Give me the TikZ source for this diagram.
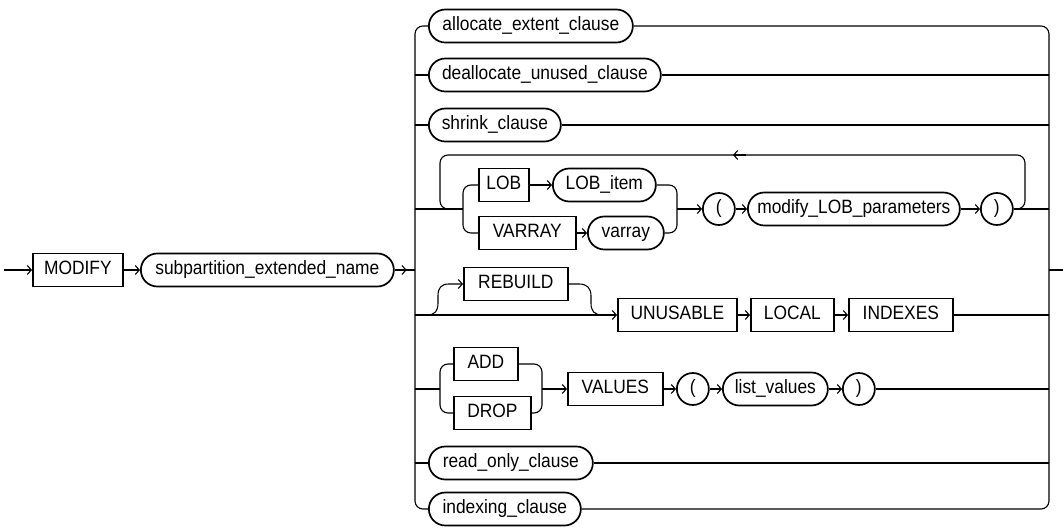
\documentclass[tikz,border=0pt]{standalone}
\usepackage{fontspec}
\setmainfont{Liberation Sans}[FakeStretch=0.9]
\usetikzlibrary{arrows.meta}
\begin{document}
\begin{tikzpicture}[x=1pt,y=-1pt,
  line width=1.1pt,
  elem/.style={draw, line width=1.7pt, font=\fontsize{19.3}{22}\selectfont,
    text height=13.8pt, text depth=4pt, inner sep=0pt, minimum height=33pt, anchor=west},
  kw/.style={elem, rectangle},
  nt/.style={elem, rectangle, rounded corners=16.5pt},
  pc/.style={elem, circle, minimum size=32pt},
  arr/.style={-{Straight Barb[length=4pt,width=9pt]}},
  rc/.style={rounded corners=8pt},
]
\useasboundingbox (0,0) rectangle (1063,529);

% main chain
\coordinate (start) at (4,270);
\node[kw, minimum width=90pt] (modify) at (32,270) {MODIFY};
\node[nt, minimum width=253pt] (subp) at (140,270) {subpartition\_extended\_name};

% left bus coordinates
\coordinate (L1) at (415,26);
\coordinate (L2) at (415,75);
\coordinate (L3) at (415,125);
\coordinate (L4) at (415,209);
\coordinate (L0) at (415,270);
\coordinate (L5) at (415,315);
\coordinate (L6) at (415,389);
\coordinate (L7) at (415,463);
\coordinate (L8) at (415,509);
% right bus coordinates
\coordinate (R1) at (1049,26);
\coordinate (R2) at (1049,75);
\coordinate (R3) at (1049,125);
\coordinate (R4) at (1049,209);
\coordinate (R0) at (1049,270);
\coordinate (R5) at (1049,315);
\coordinate (R6) at (1049,389);
\coordinate (R7) at (1049,463);
\coordinate (R8) at (1049,509);
\coordinate (finish) at (1063,270);

% branch elements
\node[nt, minimum width=204pt] (alloc) at (428,26) {allocate\_extent\_clause};
\node[nt, minimum width=232pt] (dealloc) at (428,75) {deallocate\_unused\_clause};
\node[nt, minimum width=132pt] (shrink) at (428,125) {shrink\_clause};

\node[kw, minimum width=50pt] (lob) at (478,185) {LOB};
\node[nt, minimum width=103pt] (lobitem) at (552,185) {LOB\_item};
\node[kw, minimum width=97pt] (varr) at (478,233) {VARRAY};
\node[nt, minimum width=76pt] (varray) at (587,233) {varray};
\node[pc] (lp1) at (702,209) {(};
\node[nt, minimum width=212pt] (mlp) at (747,209) {modify\_LOB\_parameters};
\node[pc] (rp1) at (980,209) {)};

\node[kw, minimum width=104pt] (rebuild) at (463,284) {REBUILD};
\node[kw, minimum width=119pt] (unusable) at (617,315) {UNUSABLE};
\node[kw, minimum width=83pt] (local) at (750,315) {LOCAL};
\node[kw, minimum width=104pt] (indexes) at (848,315) {INDEXES};

\node[kw, minimum width=64pt] (add) at (453,364) {ADD};
\node[kw, minimum width=77pt] (drop) at (453,413) {DROP};
\node[kw, minimum width=95pt] (values) at (567,389) {VALUES};
\node[pc] (lp2) at (676,389) {(};
\node[nt, minimum width=105pt] (listv) at (722,389) {list\_values};
\node[pc] (rp2) at (842,389) {)};

\node[nt, minimum width=164pt] (readonly) at (428,463) {read\_only\_clause};
\node[nt, minimum width=152pt] (indexing) at (428,509) {indexing\_clause};

% main connectors
\draw[arr] (start) -- (modify.west);
\draw[arr] (modify.east) -- (subp.west);
\draw (subp.east) -- (L0);
\draw[arr] (subp.east) -- ++(12,0);
\draw (R0) -- (finish);

% buses
\draw[rc] (alloc.west) -- (L1) -- (L8) -- (indexing.west);
\draw[rc] (alloc.east) -- (R1) -- (R8) -- (indexing.east);

% simple rows
\draw (L2) -- (dealloc.west);
\draw (dealloc.east) -- (R2);
\draw (L3) -- (shrink.west);
\draw (shrink.east) -- (R3);
\draw (L7) -- (readonly.west);
\draw (readonly.east) -- (R7);

% LOB / VARRAY row with loop
\coordinate (lbA) at (463,185);
\coordinate (lbB) at (463,233);
\coordinate (lbM) at (463,209);
\coordinate (rbA) at (677,185);
\coordinate (rbB) at (677,233);
\coordinate (rbM) at (677,209);
\draw (L4) -- (lbM);
\draw[rc] (lob.west) -- (lbA) -- (lbB) -- (varr.west);
\draw[arr] (lob.east) -- (lobitem.west);
\draw[arr] (varr.east) -- (varray.west);
\draw[rc] (lobitem.east) -- (rbA) -- (rbB) -- (varray.east);
\draw[arr] (rbM) -- (lp1.west);
\draw[arr] (lp1.east) -- (mlp.west);
\draw[arr] (mlp.east) -- (rp1.west);
\draw (rp1.east) -- (R4);
\coordinate (lo0) at (456,209);
\coordinate (lo1) at (440,209);
\coordinate (lo2) at (440,155);
\coordinate (lo3) at (1025,155);
\coordinate (lo4) at (1025,209);
\draw[rc] (lo0) -- (lo1) -- (lo2) -- (lo3) -- (lo4) -- (rp1.east);
\coordinate (la1) at (746,155);
\coordinate (la2) at (733,155);
\draw[arr] (la1) -- (la2);

% REBUILD row
\draw[arr] (L5) -- (unusable.west);
\coordinate (rb0) at (427,315);
\coordinate (rb1) at (449,284);
\draw[arr] (rb0) .. controls (435,315) and (438,311) .. (438,303) -- (438,296)
  .. controls (438,288) and (441,284) .. (rb1) -- (rebuild.west);
\coordinate (rb2) at (579,284);
\coordinate (rb3) at (603,315);
\draw (rebuild.east) -- (rb2) .. controls (587,284) and (591,288) .. (591,296) -- (591,303)
  .. controls (591,311) and (594,315) .. (rb3);
\draw[arr] (unusable.east) -- (local.west);
\draw[arr] (local.east) -- (indexes.west);
\draw (indexes.east) -- (R5);

% ADD / DROP row
\coordinate (abA) at (440,364);
\coordinate (abB) at (440,413);
\coordinate (abM) at (440,389);
\coordinate (arA) at (542,364);
\coordinate (arB) at (542,413);
\coordinate (arM) at (542,389);
\draw (L6) -- (abM);
\draw[rc] (add.west) -- (abA) -- (abB) -- (drop.west);
\draw[rc] (add.east) -- (arA) -- (arB) -- (drop.east);
\draw[arr] (arM) -- (values.west);
\draw[arr] (values.east) -- (lp2.west);
\draw[arr] (lp2.east) -- (listv.west);
\draw[arr] (listv.east) -- (rp2.west);
\draw (rp2.east) -- (R6);
\end{tikzpicture}
\end{document}
